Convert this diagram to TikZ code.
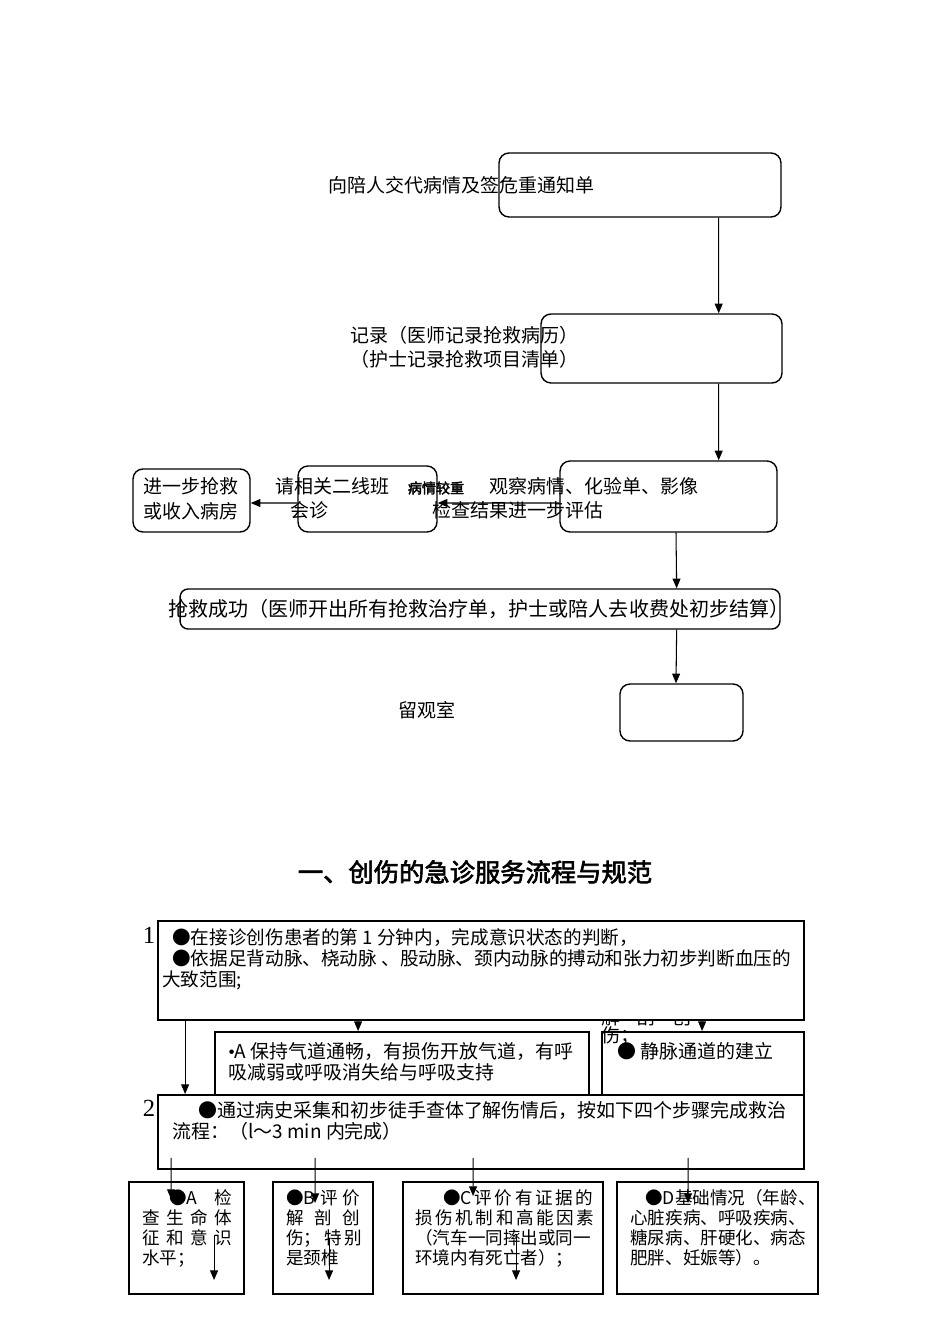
\documentclass[tikz,border=0pt]{standalone}
\usepackage{fontspec}
\setmainfont{Liberation Serif}
\newfontfamily\cjk{Noto Sans CJK SC}
\newfontfamily\cjkb[FakeBold=2.5]{Noto Sans CJK SC}
\usetikzlibrary{arrows.meta}
\tikzstyle{nodotondo} = [rectangle,rounded corners=0.2cm,draw=black,line width=0.8pt,inner sep=0pt]
\tikzstyle{nodoquadro} = [rectangle,draw=black,line width=1.1pt,inner sep=0pt]
\tikzstyle{testo} = [anchor=base west,align=left,inner sep=0pt]
\tikzstyle{testopiccolo} = [testo,font=\cjk\fontsize{10}{11.2}\selectfont]
\tikzstyle{arrow} = [line width=0.6pt,->,>={Triangle[length=5.5pt,width=4.5pt]}]

\begin{document}
\begin{tikzpicture}[x=0.02cm,y=-0.02cm]
\tikzstyle{every node}=[font=\cjk\fontsize{10.8}{14.2}\selectfont]
\useasboundingbox (0,0) rectangle (950,1344);

% flusso superiore
\node (pA) [nodotondo,minimum width=5.64cm,minimum height=1.28cm] at (640,185) {};
\node (pB) [nodotondo,minimum width=4.82cm,minimum height=1.38cm] at (661.5,348.5) {};
\node (pC) [nodotondo,minimum width=4.34cm,minimum height=1.42cm] at (668.5,496.5) {};
\node (pD) [nodotondo,minimum width=2.78cm,minimum height=1.32cm] at (367.5,499) {};
\node (pE) [nodotondo,minimum width=2.34cm,minimum height=1.26cm] at (191.5,500.5) {};
\node (pF) [nodotondo,rounded corners=0.16cm,minimum width=12cm,minimum height=0.8cm] at (480,609) {};
\node (pG) [nodotondo,minimum width=2.46cm,minimum height=1.14cm] at (681.5,712.5) {};

% (base = ultima riga)
\node (tA) [testo] at (328,193) {向陪人交代病情及签危重通知单};
\node (tB) [testo] at (350,367) {记录（医师记录抢救病历）\\（护士记录抢救项目清单）};
\node (tC1) [testo] at (489,493) {观察病情、化验单、影像};
\node (tC2) [testo] at (432,517) {检查结果进一步评估};
\node (tD1) [testo] at (275,493) {请相关二线班};
\node (tD2) [testo] at (290,517) {会诊};
\node (tE) [testo] at (143,518) {进一步抢救\\或收入病房};
\node (tX) [font=\cjkb\fontsize{8}{8}\selectfont,inner sep=0pt] at (436,488) {病情较重};
\node (tF) [testo,font=\cjk\fontsize{11.4}{12}\selectfont] at (168,616) {抢救成功（医师开出所有抢救治疗单，护士或陪人去收费处初步结算）};
\node (tG) [testo] at (398,717) {留观室};

\draw[arrow] ([shift={(-63,0)}]pA.south east) -- ([shift={(-64,0)}]pB.north east);
\draw[arrow] ([shift={(-64,0)}]pB.south east) -- ([shift={(-59,0)}]pC.north east);
\draw[arrow] ([shift={(0,6.5)}]pC.west) -- ([shift={(0,4)}]pD.east);
\draw[arrow] ([shift={(0,4)}]pD.west) -- ([shift={(0,2.5)}]pE.east);
\draw[arrow] ([shift={(7.5,0)}]pC.south) -- ([shift={(-104,0)}]pF.north east);
\draw[arrow] ([shift={(-104,0)}]pF.south east) -- ([shift={(-5.5,0)}]pG.north);

% titolo
\node (titolo) [font=\cjkb\fontsize{14.4}{16}\selectfont] at (475,872) {一、创伤的急诊服务流程与规范};

% flusso inferiore
\node (tH) [testo,font=\cjk\fontsize{10.8}{10.2}\selectfont] at (601,1042)
  {\makebox[1.8cm][s]{解 剖 创}\\伤；};
\node (q1) [nodoquadro,fill=white,minimum width=12.92cm,minimum height=1.98cm] at (481,970.5) {};
\node (q2) [nodoquadro,minimum width=7.48cm,minimum height=1.26cm] at (402,1063.5) {};
\node (q3) [nodoquadro,minimum width=4.04cm,minimum height=1.26cm] at (703,1063.5) {};
\node (q4) [nodoquadro,fill=white,minimum width=12.92cm,minimum height=1.48cm] at (481,1132) {};
\node (b1) [nodoquadro,minimum width=2.3cm,minimum height=2.24cm] at (186.5,1238) {};
\node (b2) [nodoquadro,minimum width=2.0cm,minimum height=2.24cm] at (323,1238) {};
\node (b3) [nodoquadro,minimum width=4.0cm,minimum height=2.24cm] at (503,1238) {};
\node (b4) [nodoquadro,minimum width=4.02cm,minimum height=2.24cm] at (717.5,1238) {};

\node (n1) [font=\fontsize{14}{14}\selectfont,anchor=base,inner sep=0pt] at (149,943) {1};
\node (n2) [font=\fontsize{14}{14}\selectfont,anchor=base,inner sep=0pt] at (149,1116) {2};

\node (t1) [testo,font=\cjk\fontsize{10.6}{11.9}\selectfont] at (172,986)
  {●在接诊创伤患者的第 1 分钟内，完成意识状态的判断，\\●依据足背动脉、桡动脉 、股动脉、颈内动脉的搏动和张力初步判断血压的\\\hspace*{-0.2cm}大致范围;};
\node (t2) [testo,font=\cjk\fontsize{10.8}{11.9}\selectfont] at (228,1079)
  {{\rmfamily •}A 保持气道通畅，有损伤开放气道，有呼\\吸减弱或呼吸消失给与呼吸支持};
\node (t3) [testo] at (617,1058) {● 静脉通道的建立};
\node (t4) [testo,font=\cjk\fontsize{10.8}{11.9}\selectfont] at (172,1138)
  {\hspace*{0.52cm}●通过病史采集和初步徒手查体了解伤情后，按如下四个步骤完成救治\\流程：（l～3 min 内完成）};

\node (s1) [testopiccolo] at (142,1264)
  {\hspace*{0.54cm}\makebox[1.26cm][s]{●A 检}\\\makebox[1.8cm][s]{查 生 命 体}\\\makebox[1.8cm][s]{征 和 意 识}\\水平；};
\node (s2) [testopiccolo] at (286,1264)
  {\makebox[1.48cm][s]{●B 评 价}\\\makebox[1.48cm][s]{解 剖 创}\\\makebox[1.48cm][s]{伤； 特 别}\\是颈椎};
\node (s3) [testopiccolo] at (415,1264)
  {\hspace*{0.56cm}\makebox[2.96cm][s]{●C 评 价 有 证 据 的}\\\makebox[3.52cm][s]{损 伤 机 制 和 高 能 因 素}\\（汽车一同摔出或同一\\环境内有死亡者）；};
\node (s4) [testopiccolo] at (630,1264)
  {\hspace*{0.3cm}●D基础情况（年龄、\\心脏疾病、呼吸疾病、\\糖尿病、肝硬化、病态\\肥胖、妊娠等）。};

\draw[arrow] ([shift={(28,0)}]q1.south west) -- ([shift={(28,0)}]q4.north west);
\draw[arrow] ([shift={(201,0)}]q1.south west) -- ([shift={(144,0)}]q2.north west);
\draw[arrow] ([shift={(545,0)}]q1.south west) -- ([shift={(101,0)}]q3.north west);

\draw[arrow] ([shift={(14,-12)}]q4.south west) -- ([shift={(43,18)}]b1.north west);
\draw[arrow] ([shift={(158,-12)}]q4.south west) -- ([shift={(43,22)}]b2.north west);
\draw[arrow] ([shift={(316,-12)}]q4.south west) -- ([shift={(71,15)}]b3.north west);
\draw[arrow] ([shift={(531,-12)}]q4.south west) -- ([shift={(72,22)}]b4.north west);
\draw[arrow] ([shift={(86,54)}]b1.north west) -- ([shift={(86,99)}]b1.north west);
\draw[arrow] ([shift={(57,58)}]b2.north west) -- ([shift={(57,99)}]b2.north west);
\draw[arrow] ([shift={(114,53)}]b3.north west) -- ([shift={(114,99)}]b3.north west);
\end{tikzpicture}
\end{document}
